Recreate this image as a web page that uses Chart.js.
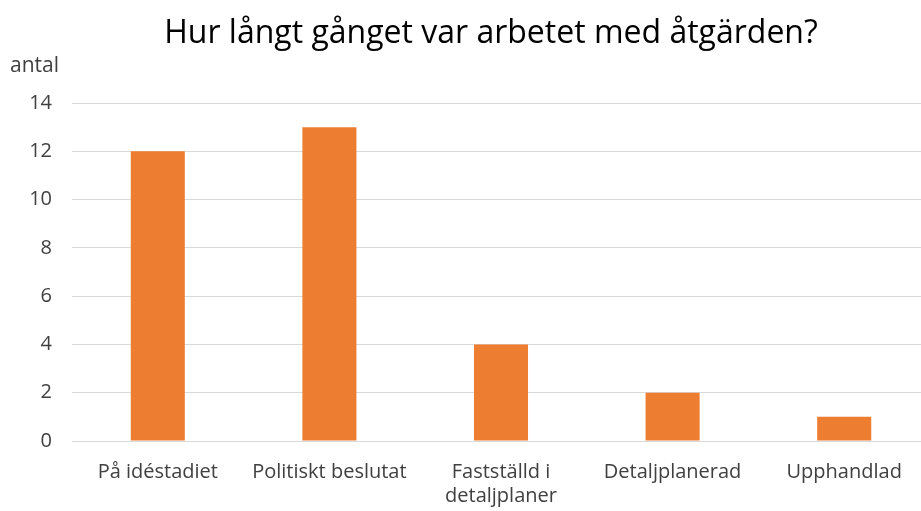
<!DOCTYPE html>
<html>
<head>
<meta charset="utf-8">
<script src="https://cdn.jsdelivr.net/npm/chart.js@4.4.1/dist/chart.umd.min.js"></script>
<style>
  html, body { margin: 0; padding: 0; background: #fff; overflow: hidden; }
  #wrap { width: 930px; height: 511px; }
</style>
</head>
<body>
<div id="wrap"><canvas id="chart" width="930" height="511"></canvas></div>
<script>
const categories = ["På idéstadiet", "Politiskt beslutat", ["Fastställd i", "detaljplaner"], "Detaljplanerad", "Upphandlad"];
const counts = [12, 13, 4, 2, 1];
const yTicks = [0, 2, 4, 6, 8, 10, 12, 14];
const chartTitle = "Hur långt gånget var arbetet med åtgärden?";
const yLabel = "antal";

const FONT = "'Open Sans', sans-serif";

// title and axis caption drawn at fixed spots like the original
const textPlugin = {
  id: "texts",
  afterDraw(chart) {
    const c = chart.ctx;
    c.save();
    c.fillStyle = "#000";
    c.font = "32px " + FONT;
    c.textAlign = "center";
    c.textBaseline = "alphabetic";
    c.fillText(chartTitle, 491, 43);
    c.fillStyle = "#404040";
    c.font = "21px " + FONT;
    c.textAlign = "left";
    c.fillText(yLabel, 10, 72);
    c.restore();
  }
};

new Chart(document.getElementById("chart").getContext("2d"), {
  type: "bar",
  data: {
    labels: categories,
    datasets: [{
      data: counts,
      backgroundColor: "#ED7D31",
      barPercentage: 0.63,
      categoryPercentage: 0.5
    }]
  },
  options: {
    responsive: false,
    animation: false,
    layout: { padding: { top: 103, right: 0, left: 0, bottom: 0 } },
    plugins: {
      legend: { display: false },
      tooltip: { enabled: false },
      title: { display: false }
    },
    scales: {
      x: {
        grid: { display: false, drawTicks: false },
        border: { color: "#d9d9d9", width: 1 },
        ticks: { color: "#404040", font: { family: FONT, size: 20 }, padding: 19, maxRotation: 0, autoSkip: false },
        afterFit(s) { s.height = 70; }
      },
      y: {
        min: 0,
        max: 14,
        afterBuildTicks(s) { s.ticks = yTicks.map(v => ({ value: v })); },
        grid: { color: "#d9d9d9", drawTicks: false },
        border: { display: false },
        ticks: { color: "#404040", font: { family: FONT, size: 20 }, padding: 20 },
        afterFit(s) { s.width = 72; }
      }
    }
  },
  plugins: [textPlugin]
});
</script>
</body>
</html>
